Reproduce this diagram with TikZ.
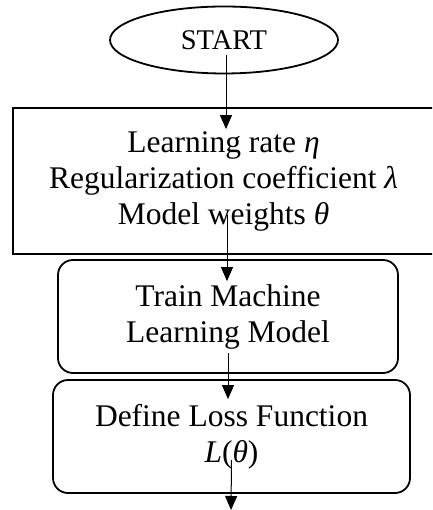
\documentclass[tikz,border=0pt]{standalone}
\usepackage{amsmath}
\usepackage{fontspec}
\setmainfont{Liberation Serif}
\usepackage{tikz}
\usetikzlibrary{shapes.geometric,arrows.meta,positioning}

\begin{document}
\begin{tikzpicture}[x=1pt,y=1pt,
             box/.style={draw,line width=1.8pt,align=center,inner sep=0pt,
               font=\fontsize{31.5}{36}\selectfont},
             rbox/.style={box,rounded corners=15pt},
             arr/.style={line width=1pt,-{Triangle[length=14pt,width=12pt]}}]
             \clip (0,0) rectangle (432,510);
             \node[ellipse,draw,line width=1.8pt,minimum width=228,minimum height=67,
               font=\fontsize{28.5}{32}\selectfont] (start) at (224,470) {START};
             \node[box,minimum width=421,minimum height=146] (params) at (223.5,329)
               {Learning rate \textit{η}\\ Regularization coefficient \textit{λ}\\ Model weights \textit{θ}};
             \node[rbox,minimum width=340,minimum height=113] (train) at (228,193.5)
               {Train Machine\\ Learning Model};
             \node[rbox,minimum width=357,minimum height=113] (loss) at (231.5,73.5)
               {Define Loss Function\\ \textit{L}(\textit{θ})};
             \coordinate (out) at (231,0);
             \draw[arr] ([shift={(2pt,-15pt)}]start.center) -- ([shift={(2.5pt,-22pt)}]params.north);
             \draw[arr] ([shift={(3.5pt,-34pt)}]params.center) -- ([shift={(-1pt,-22pt)}]train.north);
             \draw[arr] ([yshift=-36.5pt]train.center) -- ([shift={(-3.5pt,-20pt)}]loss.north);
             \draw[arr] ([yshift=-23.5pt]loss.center) -- (out);
           \end{tikzpicture}
\end{document}
